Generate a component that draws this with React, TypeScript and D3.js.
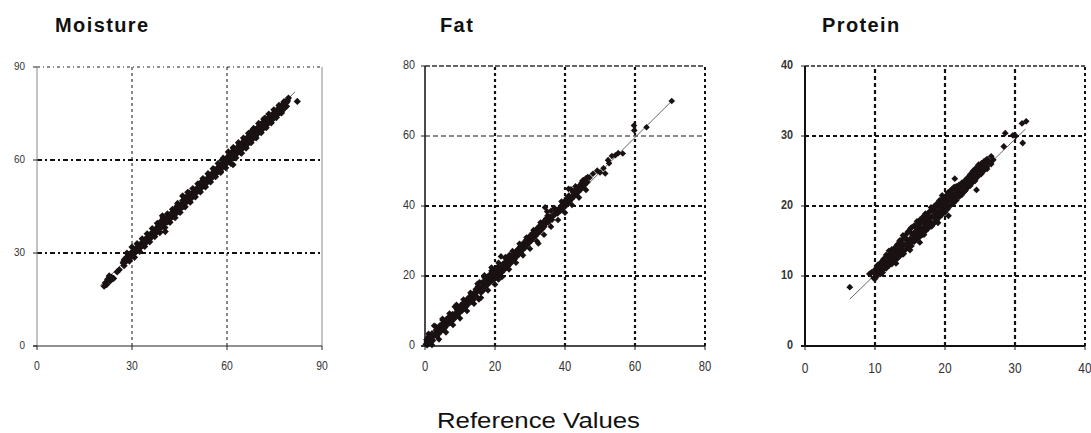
import React from "react";
import * as d3 from "d3";

// ---------------- data (reference value, predicted value) ----------------
const moisturePoints: [number, number][] = [
  [21.2,19.3],[21.6,20.4],[22.0,19.8],[22.3,21.5],[22.8,22.6],[23.1,21.0],[23.5,22.2],[24.2,21.8],[25.3,23.9],[26.0,24.6],
  [27.2,26.8],[27.6,27.9],[28.0,27.2],[28.3,28.6],[28.7,27.8],[29.1,29.3],[29.4,28.5],[29.8,30.1],[30.2,29.4],[30.5,30.8],
  [30.9,30.0],[31.3,31.4],[31.7,30.9],[32.1,32.0],[32.5,31.6],[32.9,32.8],[33.3,32.4],[33.7,33.5],[34.1,33.0],[34.5,34.3],
  [34.9,33.9],[35.3,35.2],[35.7,34.6],[36.1,36.0],[36.5,35.5],[36.9,36.7],[37.3,36.2],[37.7,37.6],[38.1,37.0],[38.4,38.9],
  [38.8,37.8],[39.1,40.2],[39.5,38.6],[39.8,41.3],[40.2,39.4],[40.5,36.9],[40.8,40.6],[41.2,40.0],[41.6,41.5],[42.0,41.0],
  [42.4,42.2],[42.8,41.7],[43.2,43.0],[43.6,42.5],[44.0,43.8],[44.4,43.2],[44.8,44.6],[45.2,44.1],[45.6,45.5],[46.0,46.9],
  [46.3,45.0],[46.7,47.8],[47.1,46.3],[47.5,48.4],[47.9,46.9],[48.3,48.0],[48.7,47.6],[49.1,49.2],[49.5,48.6],[49.9,49.9],
  [50.3,49.4],[50.7,50.7],[51.1,50.2],[51.5,51.5],[51.9,51.0],[52.3,52.3],[52.7,51.8],[53.1,53.1],[53.5,52.5],[53.9,53.9],
  [54.3,53.3],[54.7,54.8],[55.1,54.1],[55.5,55.6],[55.9,54.9],[56.3,56.4],[56.7,55.7],[57.1,57.3],[57.5,56.5],[57.9,58.2],
  [58.3,57.3],[58.7,59.1],[59.1,58.1],[59.4,60.0],[59.8,58.9],[60.2,61.0],[60.5,59.5],[60.9,61.8],[61.2,60.3],[61.6,62.7],
  [61.9,58.5],[62.3,61.6],[62.6,63.4],[63.0,62.0],[63.3,64.1],[63.7,62.6],[64.0,65.0],[64.4,63.3],[64.8,65.6],[65.1,64.0],
  [65.5,66.3],[65.9,64.6],[66.2,67.0],[66.6,65.3],[67.0,67.8],[67.4,66.1],[67.7,68.4],[68.1,66.8],[68.5,69.3],[68.9,67.6],
  [69.3,70.0],[69.6,68.4],[70.0,70.8],[70.4,69.2],[70.8,71.5],[71.2,69.9],[71.5,72.3],[71.9,70.8],[72.3,72.8],[72.7,71.5],
  [73.1,73.4],[73.5,72.2],[73.9,74.0],[74.3,73.0],[74.7,74.7],[75.1,73.8],[75.5,75.4],[75.9,74.6],[76.3,76.1],[76.7,75.3],
  [77.1,76.8],[77.5,76.0],[77.9,77.6],[78.3,77.0],[78.7,78.5],[79.1,79.3],[79.4,80.0],[82.2,78.9],
  [56.0,56.9],[58.0,56.4],[62.0,64.0],[64.6,62.2],[68.0,69.6],[72.0,73.5],[48.0,49.4],[44.2,45.1],[52.0,53.0],[66.0,63.9]
];
const moistureOuter: [number, number][] = [
  [27.5,25.9],[28.4,30.0],[29.2,27.4],[30.0,31.9],[30.8,28.6],[31.6,33.0],[32.4,30.5],[33.2,34.6],[34.0,32.1],[34.8,36.2],
  [35.6,33.6],[36.4,37.9],[37.2,35.3],[38.0,39.6],[38.8,36.6],[39.6,42.0],[40.4,38.2],[41.2,42.6],[42.0,39.9],[42.8,44.1],
  [43.6,41.4],[44.4,46.0],[45.2,43.1],[46.0,48.4],[46.8,44.9],[47.6,49.6],[48.4,46.4],[49.2,50.8],[50.0,48.1],[50.8,52.3],
  [51.6,49.7],[52.4,54.0],[53.2,51.3],[54.0,55.6],[54.8,52.9],[55.6,57.2],[56.4,54.6],[57.2,58.9],[58.0,56.0],[58.8,60.6],
  [59.6,57.5],[60.4,62.6],[61.2,58.9],[62.0,63.9],[62.8,60.7],[63.6,65.6],[64.4,62.3],[65.2,67.1],[66.0,63.9],[66.8,68.6],
  [67.6,65.6],[68.4,70.2],[69.2,67.1],[70.0,71.8],[70.8,68.8],[71.6,73.2],[72.4,70.4],[73.2,74.8],[74.0,72.0],[74.8,76.2],
  [75.6,73.7],[76.4,77.6],[77.2,75.2],[78.0,78.8],[78.8,77.3]
];
const moistureCore: [number, number][] = [
  [27.4,27.3],[28.0,28.2],[28.6,28.4],[29.2,29.5],[29.8,29.6],[30.4,30.6],[31.0,30.9],[31.6,31.8],[32.2,32.1],[32.8,33.0],
  [33.4,33.2],[34.0,34.3],[34.6,34.5],[35.2,35.4],[35.8,35.6],[36.4,36.7],[37.0,36.8],[37.6,37.9],[38.2,38.1],[38.8,39.2],
  [39.4,39.3],[40.0,40.4],[40.6,40.3],[41.2,41.5],[41.8,41.6],[42.4,42.8],[43.0,42.7],[43.6,44.0],[44.2,43.9],[44.8,45.2],
  [45.4,45.1],[46.0,46.3],[46.6,46.4],[47.2,47.6],[47.8,47.6],[48.4,48.8],[49.0,48.8],[49.6,50.0],[50.2,50.0],[50.8,51.2],
  [51.4,51.1],[52.0,52.4],[52.6,52.3],[53.2,53.6],[53.8,53.5],[54.4,54.8],[55.0,54.7],[55.6,56.0],[56.2,55.9],[56.8,57.2],
  [57.4,57.1],[58.0,58.5],[58.6,58.3],[59.2,59.7],[59.8,59.6],[60.4,60.9],[61.0,60.8],[61.6,62.1],[62.2,62.0],[62.8,63.3],
  [63.4,63.2],[64.0,64.5],[64.6,64.4],[65.2,65.7],[65.8,65.6],[66.4,66.9],[67.0,66.8],[67.6,68.1],[68.2,68.0],[68.8,69.3],
  [69.4,69.2],[70.0,70.4],[70.6,70.3],[71.2,71.6],[71.8,71.5],[72.4,72.8],[73.0,72.7],[73.6,74.0],[74.2,73.9],[74.8,75.2],
  [75.4,75.0],[76.0,76.4],[76.6,76.2],[77.2,77.6],[77.8,77.4],[78.4,78.7],[79.0,78.8]
];
const moistureFit: [number, number][] = [[20.0, 19.5], [81.5, 82.0]];

const fatPoints: [number, number][] = [
  [0.2,0.5],[0.4,1.8],[0.6,0.2],[0.8,2.4],[1.0,1.0],[1.3,3.1],[1.5,0.8],[1.8,2.2],[2.0,3.6],[2.3,1.6],
  [2.6,5.8],[2.8,3.0],[3.1,4.5],[3.4,2.7],[3.7,5.1],[4.0,3.5],[4.3,5.9],[4.6,4.2],[4.9,6.3],[5.2,4.6],
  [5.5,7.2],[5.8,5.3],[6.1,7.6],[6.4,6.1],[6.7,8.2],[7.0,6.5],[7.3,8.7],[7.6,7.0],[7.9,9.1],[8.2,7.6],
  [8.5,11.2],[8.8,8.3],[9.1,10.4],[9.4,8.9],[9.7,11.0],[10.0,9.6],[10.3,11.7],[10.6,10.1],[10.9,12.3],[11.2,10.8],
  [11.5,12.9],[11.8,11.3],[12.1,13.4],[12.4,12.0],[12.7,14.1],[13.0,12.5],[13.3,14.6],[13.6,13.2],[13.9,15.1],[14.2,13.6],
  [14.5,16.2],[14.8,14.1],[15.1,17.0],[15.4,13.3],[15.7,16.4],[16.0,15.2],[16.3,18.1],[16.6,15.8],[16.9,18.6],[17.2,16.9],
  [17.5,19.5],[17.8,17.4],[18.1,20.0],[18.4,18.0],[18.7,20.6],[19.0,18.5],[19.3,21.2],[19.6,19.0],[19.9,21.8],[20.2,19.4],
  [20.5,22.3],[20.8,20.0],[21.1,22.9],[21.4,20.5],[21.7,25.6],[22.0,21.1],[22.3,23.5],[22.6,21.7],[22.9,24.0],[23.2,22.4],
  [23.5,24.8],[23.8,22.9],[24.1,26.0],[24.4,23.5],[24.7,25.9],[25.0,24.2],[25.3,26.4],[25.6,24.8],[25.9,27.0],[26.2,25.5],
  [26.5,27.6],[26.8,26.1],[27.1,28.3],[27.4,26.8],[27.7,28.9],[28.0,27.5],[28.3,29.6],[28.6,28.1],[28.9,30.3],[29.2,28.8],
  [29.5,30.9],[29.8,29.5],[30.1,31.6],[30.4,30.1],[30.7,32.2],[31.0,30.8],[31.3,32.8],[31.6,31.4],[31.9,33.5],[32.2,32.1],
  [32.4,29.3],[32.6,34.2],[32.9,32.7],[33.2,34.8],[33.5,33.4],[33.8,35.5],[34.1,34.1],[34.3,39.6],[34.6,36.4],[34.9,38.4],
  [35.2,35.2],[35.6,37.0],[36.0,38.6],[36.3,36.1],[36.7,37.3],[37.1,37.8],[37.5,38.6],[37.9,37.9],[38.3,39.3],[38.7,38.6],
  [39.1,40.3],[39.5,39.4],[39.9,41.4],[40.2,40.0],[40.5,42.3],[40.8,40.7],[41.1,43.0],[41.4,41.4],[41.7,44.8],[42.0,42.1],
  [42.3,43.9],[42.6,42.7],[42.9,44.6],[43.2,43.3],[43.5,45.2],[43.8,44.0],[44.1,45.8],[44.4,44.6],[44.7,46.6],[45.0,45.3],
  [45.3,47.4],[45.6,46.0],[46.0,47.9],[46.4,46.8],[47.0,48.1],[48.0,49.2],[49.2,50.1],[50.0,49.6],[51.0,50.8],[51.5,49.3],
  [52.3,53.1],[52.6,52.2],[53.4,54.3],[54.4,54.5],[55.2,55.1],[56.5,55.0],[59.7,63.0],[59.8,61.6],[63.3,62.5],[70.5,70.0],
  [17.0,20.2],[19.0,22.4],[21.0,19.0],[15.6,18.2],[23.0,25.0],[9.0,11.8],[5.0,7.8]
];
const fatOuter: [number, number][] = [
  [1.0,3.5],[2.0,0.3],[3.0,5.6],[4.0,1.9],[5.0,7.4],[6.0,3.9],[7.0,9.3],[8.0,6.0],[9.0,11.4],[10.0,7.9],
  [11.0,13.3],[12.0,10.0],[13.0,15.2],[14.0,12.1],[15.0,17.8],[16.0,13.8],[17.0,19.6],[18.0,15.9],[19.0,21.5],[20.0,17.6],
  [21.0,23.8],[22.0,19.7],[23.0,25.4],[24.0,21.9],[25.0,27.1],[26.0,23.8],[27.0,29.2],[28.0,25.9],[29.0,31.0],[30.0,27.8],
  [31.0,33.1],[32.0,29.9],[33.0,35.3],[34.0,31.8],[35.0,37.2],[36.0,34.1],[37.0,39.4],[38.0,36.0],[39.0,41.3],[40.0,38.1],
  [41.0,44.9],[42.0,40.3],[43.0,45.6],[44.0,42.4],[45.0,47.2],[46.0,44.6],[46.5,48.3]
];
const fatCore: [number, number][] = [
  [0.5,1.2],[1.1,1.6],[1.7,2.4],[2.3,2.8],[2.9,3.6],[3.5,4.0],[4.1,4.8],[4.7,5.2],[5.3,6.0],[5.9,6.4],
  [6.5,7.2],[7.1,7.6],[7.7,8.4],[8.3,8.8],[8.9,9.6],[9.5,10.0],[10.1,10.8],[10.7,11.2],[11.3,12.0],[11.9,12.4],
  [12.5,13.2],[13.1,13.6],[13.7,14.4],[14.3,14.8],[14.9,15.6],[15.5,16.0],[16.1,16.8],[16.7,17.2],[17.3,18.0],[17.9,18.5],
  [18.5,19.2],[19.1,19.7],[19.7,20.4],[20.3,20.9],[20.9,21.6],[21.5,22.0],[22.1,22.8],[22.7,23.2],[23.3,24.0],[23.9,24.4],
  [24.5,25.2],[25.1,25.6],[25.7,26.4],[26.3,26.8],[26.9,27.6],[27.5,28.0],[28.1,28.8],[28.7,29.2],[29.3,30.0],[29.9,30.4],
  [30.5,31.2],[31.1,31.6],[31.7,32.4],[32.3,32.8],[32.9,33.6],[33.5,34.0],[34.1,34.8],[34.7,35.2],[35.3,36.0],[35.9,36.4],
  [36.5,37.2],[37.1,37.5],[37.7,38.3],[38.3,38.7],[38.9,39.5],[39.5,40.0],[40.1,40.8],[40.7,41.3],[41.3,42.0],[41.9,42.5],
  [42.5,43.2],[43.1,43.7],[43.7,44.4],[44.3,44.9],[44.9,45.6],[45.5,46.1]
];
const fatFit: [number, number][] = [[0, 0], [70.5, 70.0]];

const proteinPoints: [number, number][] = [
  [6.4,8.4],
  [9.2,10.3],[9.5,10.5],[9.8,9.7],[10.1,10.2],[10.4,11.0],[10.6,10.6],[10.9,11.4],[11.1,10.5],[11.3,12.2],[11.5,11.2],
  [11.7,12.8],[11.9,11.6],[12.1,12.3],[12.3,13.3],[12.5,12.0],[12.7,13.6],[12.9,12.6],[13.1,14.2],[13.3,12.9],[13.5,15.0],
  [13.7,13.5],[13.9,14.6],[14.1,13.2],[14.3,15.5],[14.5,14.4],[14.7,16.3],[14.9,14.8],[15.1,16.8],[15.3,14.9],[15.5,16.1],
  [15.7,15.4],[15.9,16.9],[16.1,15.6],[16.3,17.4],[16.5,16.2],[16.7,17.9],[16.9,16.6],[17.1,18.3],[17.3,17.0],[17.5,18.7],
  [17.7,17.5],[17.9,19.2],[18.1,17.1],[18.3,19.5],[18.5,18.3],[18.7,19.9],[18.9,18.6],[19.1,20.3],[19.3,19.1],[19.5,20.6],
  [19.7,19.5],[19.9,21.1],[20.1,19.9],[20.3,21.5],[20.5,18.6],[20.7,21.0],[20.9,22.3],[21.1,20.6],[21.3,22.7],[21.5,21.3],
  [21.7,22.0],[21.4,23.9],[22.0,22.6],[22.3,21.8],[22.6,22.9],[22.9,22.2],[23.2,23.4],[23.6,23.7],[24.0,24.9],[24.3,23.6],
  [24.5,22.3],[24.8,25.4],[25.2,24.8],[25.6,26.0],[26.0,25.3],[26.4,26.2],[26.9,26.6],[28.4,28.5],[28.6,30.4],[29.7,30.1],
  [30.1,30.0],[31.0,31.8],[31.6,32.1],[31.1,29.0],
  [14.0,15.8],[15.0,13.7],[16.0,17.8],[17.0,15.9],[18.0,19.8],[19.0,17.6],[19.6,21.5],[16.4,14.8],[13.0,11.8],[12.0,13.6],
  [20.0,20.6],[21.0,21.8],[18.6,19.0],[17.6,18.2],[15.8,16.4],[22.4,22.3],[23.8,24.2]
];
const proteinOuter: [number, number][] = [
  [10.0,9.6],[10.0,10.9],[10.4,10.1],[10.4,11.6],[10.8,10.3],[10.8,11.9],[11.2,11.0],[11.2,12.4],[11.6,11.1],[11.6,13.0],
  [12.0,11.5],[12.0,12.9],[12.4,11.7],[12.4,13.8],[12.8,12.4],[12.8,14.0],[13.2,12.5],[13.2,14.5],[13.6,12.9],[13.6,15.1],
  [14.0,13.1],[14.0,15.3],[14.4,13.8],[14.4,15.9],[14.8,14.0],[14.8,16.4],[15.2,14.3],[15.2,16.9],[15.6,14.9],[15.6,17.2],
  [16.0,15.3],[16.0,17.3],[16.4,15.6],[16.4,18.0],[16.8,15.9],[16.8,18.4],[17.2,16.4],[17.2,18.9],[17.6,16.8],[17.6,19.0],
  [18.0,17.2],[18.0,19.4],[18.4,17.5],[18.4,19.9],[18.8,17.9],[18.8,20.3],[19.2,18.4],[19.2,20.8],[19.6,18.8],[19.6,21.0],
  [20.0,19.1],[20.0,21.3],[20.4,19.6],[20.4,21.9],[20.8,20.1],[20.8,22.2],[21.2,20.4],[21.2,22.5],[21.6,20.8],[21.6,22.8],
  [22.0,21.3],[22.0,23.0],[22.4,21.6],[22.4,23.3],[22.8,22.1],[22.8,23.6],[23.2,22.6],[23.2,24.0],[23.6,22.9],[23.6,24.5],
  [24.0,23.4],[24.0,25.0],[24.4,23.9],[24.4,25.4],[24.8,24.3],[24.8,25.9],[25.2,24.6],[25.2,26.1],[25.6,25.1],[25.6,26.4],
  [26.0,25.6],[26.0,26.7],[26.6,26.0],[26.6,27.1]
];
const proteinCore: [number, number][] = [
  [10.2,10.4],[10.6,10.9],[11.0,11.2],[11.4,11.7],[11.8,12.0],[12.2,12.6],[12.6,12.9],[13.0,13.4],[13.4,13.7],[13.8,14.2],
  [14.2,14.5],[14.6,15.1],[15.0,15.3],[15.4,15.8],[15.8,16.1],[16.2,16.7],[16.6,16.9],[17.0,17.5],[17.4,17.8],[17.8,18.3],
  [18.2,18.5],[18.6,19.1],[19.0,19.3],[19.4,19.8],[19.8,20.2],[20.2,20.6],[20.6,20.8],[21.0,21.3],[21.4,21.7],[21.8,22.1],
  [22.2,22.5],[22.6,22.8],[23.0,23.2],[23.4,23.6],[23.8,24.1],[24.2,24.4],[24.6,24.9],[25.0,25.3],[25.4,25.6],[25.8,26.0],
  [26.2,26.4],
  [10.8,10.4],[11.6,11.4],[12.4,12.1],[13.2,13.0],[14.0,13.7],[14.8,14.5],[15.6,15.3],[16.4,16.1],[17.2,16.9],[18.0,17.7],
  [18.8,18.5],[19.6,19.3],[20.4,20.1],[21.2,21.0],[22.0,21.7],[22.8,22.6],[23.6,23.4],[24.4,24.2],[25.2,25.0],
  [10.4,11.3],[11.2,12.0],[12.0,12.9],[12.8,13.6],[13.6,14.5],[14.4,15.3],[15.2,16.1],[16.0,16.8],[16.8,17.7],[17.6,18.5],
  [18.4,19.3],[19.2,20.0],[20.0,20.9],[20.8,21.7],[21.6,22.4],[22.4,23.1],[23.2,23.9]
];
const proteinFit: [number, number][] = [[6.4, 6.7], [31.5, 31.0]];

const moistureTicks = [0, 30, 60, 90];
const fatTicks = [0, 20, 40, 60, 80];
const proteinTicks = [0, 10, 20, 30, 40];

const titles = ["Moisture", "Fat", "Protein"];
const xAxisTitle = "Reference Values";

// ---------------- styling / layout ----------------
type Line = { w: number; dash: string; color: string };
type PanelCfg = {
  title: string; titleX: number;
  left: number; right: number; top: number; bottom: number;
  max: number; ticks: number[];
  points: [number, number][]; fit: [number, number][];
  r: number;
  vGrid: Line; hGrid: Line; hGridAlt?: { value: number; line: Line };
  topLine: Line; rightLine: Line; leftAxis: Line; bottomAxis: Line;
  yLabel: { size: number; weight: string; gap: number };
  xLabel: { size: number; dy: number };
};

const panels: PanelCfg[] = [
  {
    title: titles[0], titleX: 55, left: 37, right: 322, top: 67, bottom: 346, max: 90, ticks: moistureTicks,
    points: [...moistureOuter, ...moistureCore, ...moisturePoints], fit: moistureFit, r: 3.6,
    vGrid: { w: 1, dash: "3,3", color: "#111" },
    hGrid: { w: 2, dash: "5,3,2,3", color: "#111" },
    topLine: { w: 1, dash: "3,3,1,3", color: "#222" },
    rightLine: { w: 1, dash: "", color: "#888" },
    leftAxis: { w: 1, dash: "", color: "#888" },
    bottomAxis: { w: 1, dash: "", color: "#222" },
    yLabel: { size: 11, weight: "normal", gap: 12 },
    xLabel: { size: 13, dy: 19 },
  },
  {
    title: titles[1], titleX: 440, left: 425, right: 705, top: 66, bottom: 346, max: 80, ticks: fatTicks,
    points: [...fatOuter, ...fatCore, ...fatPoints], fit: fatFit, r: 3.3,
    vGrid: { w: 2.2, dash: "3,3", color: "#111" },
    hGrid: { w: 2.2, dash: "4,3", color: "#111" },
    hGridAlt: { value: 60, line: { w: 1.5, dash: "5,3", color: "#666" } },
    topLine: { w: 1.6, dash: "5,2", color: "#333" },
    rightLine: { w: 2, dash: "3,3", color: "#111" },
    leftAxis: { w: 1.5, dash: "", color: "#111" },
    bottomAxis: { w: 1.5, dash: "", color: "#111" },
    yLabel: { size: 12, weight: "normal", gap: 10 },
    xLabel: { size: 14, dy: 20 },
  },
  {
    title: titles[2], titleX: 822, left: 805, right: 1085, top: 66, bottom: 346, max: 40, ticks: proteinTicks,
    points: [...proteinOuter, ...proteinCore, ...proteinPoints], fit: proteinFit, r: 3.4,
    vGrid: { w: 2.2, dash: "4,3", color: "#111" },
    hGrid: { w: 2.2, dash: "4,3", color: "#111" },
    topLine: { w: 1.6, dash: "4,2", color: "#222" },
    rightLine: { w: 2, dash: "3,3", color: "#111" },
    leftAxis: { w: 2, dash: "", color: "#111" },
    bottomAxis: { w: 2, dash: "", color: "#111" },
    yLabel: { size: 12, weight: "bold", gap: 12 },
    xLabel: { size: 15, dy: 22 },
  },
];

const diamond = {
  draw(ctx: any, size: number) {
    const r = Math.sqrt(size) / 2;
    ctx.moveTo(0, -r);
    ctx.lineTo(r, 0);
    ctx.lineTo(0, r);
    ctx.lineTo(-r, 0);
    ctx.closePath();
  },
};

const FONT = "'Liberation Sans', Arial, Helvetica, sans-serif";

function Panel({ cfg }: { cfg: PanelCfg }) {
  const x = d3.scaleLinear().domain([0, cfg.max]).range([cfg.left, cfg.right]);
  const y = d3.scaleLinear().domain([0, cfg.max]).range([cfg.bottom, cfg.top]);
  const sym = d3.symbol().type(diamond as any).size((cfg.r * 2) ** 2)();
  const fitPath = d3.line<[number, number]>().x((d) => x(d[0])).y((d) => y(d[1]))(cfg.fit) || "";
  const inner = cfg.ticks.filter((t) => t > 0 && t < cfg.max);
  const lp = (l: Line) => ({ stroke: l.color, strokeWidth: l.w, strokeDasharray: l.dash || undefined });
  return (
    <g>
      <text x={cfg.titleX} y={32} fontFamily={FONT} fontWeight="bold" fontSize={20} letterSpacing={1.4} fill="#111">
        {cfg.title}
      </text>
      {inner.map((t) => (
        <line key={"v" + t} x1={x(t)} x2={x(t)} y1={y(0)} y2={y(cfg.max)} {...lp(cfg.vGrid)} />
      ))}
      {inner.map((t) => {
        const l = cfg.hGridAlt && cfg.hGridAlt.value === t ? cfg.hGridAlt.line : cfg.hGrid;
        return <line key={"h" + t} x1={x(0)} x2={x(cfg.max)} y1={y(t)} y2={y(t)} {...lp(l)} />;
      })}
      <line x1={x(0)} x2={x(cfg.max)} y1={y(cfg.max)} y2={y(cfg.max)} {...lp(cfg.topLine)} />
      <line x1={x(cfg.max)} x2={x(cfg.max)} y1={y(0)} y2={y(cfg.max)} {...lp(cfg.rightLine)} />
      <path d={fitPath} fill="none" stroke="#555" strokeWidth={0.9} />
      {cfg.points.map((p, i) => (
        <path key={i} d={sym || ""} transform={`translate(${x(p[0])},${y(p[1])})`} fill="#1a1212" />
      ))}
      <line x1={x(0)} x2={x(0)} y1={y(0)} y2={y(cfg.max)} {...lp(cfg.leftAxis)} />
      <line x1={x(0) - 4} x2={x(cfg.max)} y1={y(0)} y2={y(0)} {...lp(cfg.bottomAxis)} />
      {cfg.ticks.map((t) => (
        <line key={"yt" + t} x1={x(0) - 4} x2={x(0)} y1={y(t)} y2={y(t)} stroke="#222" strokeWidth={1} />
      ))}
      {cfg.ticks.map((t) => (
        <line key={"xt" + t} x1={x(t)} x2={x(t)} y1={y(0)} y2={y(0) + 4} stroke="#222" strokeWidth={1} />
      ))}
      {cfg.ticks.map((t) => (
        <text
          key={"yl" + t}
          transform={`translate(${x(0) - cfg.yLabel.gap},${y(t) + cfg.yLabel.size * 0.35 - 1}) scale(0.9,1)`}
          textAnchor="end"
          fontFamily={FONT}
          fontSize={cfg.yLabel.size}
          fontWeight={cfg.yLabel.weight}
          fill="#333"
        >
          {t}
        </text>
      ))}
      {cfg.ticks.map((t) => (
        <text
          key={"xl" + t}
          transform={`translate(${x(t)},${y(0) + cfg.xLabel.dy + cfg.xLabel.size * 0.35}) scale(0.8,1)`}
          textAnchor="middle"
          fontFamily={FONT}
          fontSize={cfg.xLabel.size}
          fill="#333"
        >
          {t}
        </text>
      ))}
    </g>
  );
}

export default function App() {
  return (
    <svg width={1091} height={433} style={{ position: "absolute", left: 0, top: 0, background: "#fff" }}>
      <rect x={0} y={0} width={1091} height={433} fill="#fff" />
      {panels.map((p) => (
        <Panel key={p.title} cfg={p} />
      ))}
      <text x={437} y={428} fontFamily={FONT} fontSize={22} textLength={203} lengthAdjust="spacingAndGlyphs" fill="#111">
        {xAxisTitle}
      </text>
    </svg>
  );
}
